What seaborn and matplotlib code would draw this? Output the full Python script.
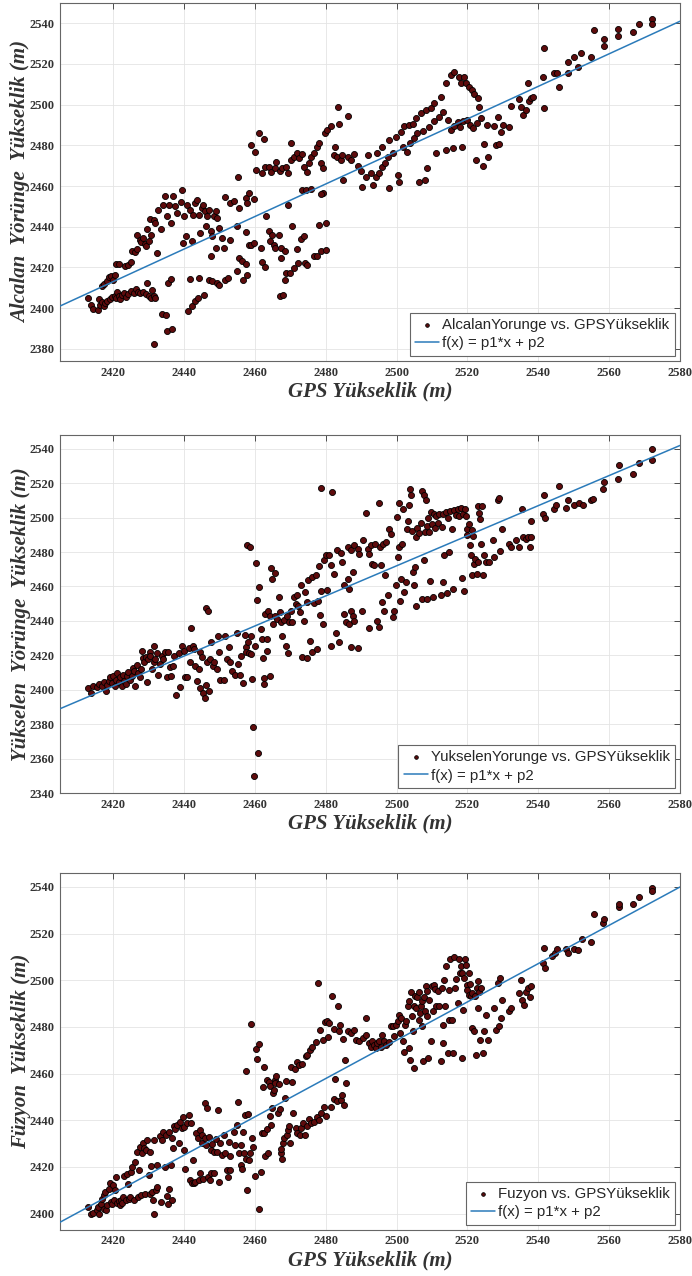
import numpy as np
import pandas as pd
import matplotlib
matplotlib.use("Agg")
import matplotlib.pyplot as plt
import seaborn as sns

# -----------------------------
# Data (GPS height vs. trajectory height, m)
# -----------------------------
alcalan_gps = [
    2413.0, 2413.7, 2414.2, 2415.6, 2416.0, 2416.3, 2416.9, 2417.3, 2417.8, 2418.4,
    2419.2, 2419.7, 2420.4, 2420.8, 2421.2, 2421.6, 2422.0, 2422.5, 2423.1, 2423.7,
    2424.3, 2425.0, 2425.8, 2426.4, 2427.1, 2427.6, 2428.4, 2429.2, 2430.0, 2430.7,
    2431.4, 2431.9, 2430.9, 2429.5,
    2416.8, 2417.5, 2418.2, 2418.7, 2419.3, 2420.1, 2420.6, 2420.8, 2421.6, 2423.4,
    2424.2, 2425.0, 2425.3, 2426.2, 2426.7, 2426.7, 2427.5, 2427.8, 2428.4, 2428.9,
    2429.2, 2429.5, 2430.0, 2430.3, 2430.7, 2431.4, 2431.9, 2432.4, 2432.8, 2433.5,
    2434.1, 2434.7, 2435.2, 2435.7, 2436.3, 2436.9, 2437.5, 2437.9, 2439.1, 2439.5,
    2439.7, 2440.1, 2440.5, 2440.8, 2441.6, 2442.3, 2442.5, 2443.2, 2443.7, 2444.2,
    2444.6, 2445.1, 2445.4, 2445.8, 2446.1, 2446.5, 2447.0, 2447.5, 2447.9, 2448.4,
    2448.9, 2449.4, 2449.8, 2450.8, 2451.4, 2447.6, 2448.9, 2451.7, 2453.1, 2452.9,
    2455.0, 2455.5, 2454.1, 2457.4, 2457.8, 2458.3, 2457.6, 2459.7,
    2431.6, 2433.8, 2434.9, 2435.2, 2436.6, 2435.5, 2436.3, 2441.1, 2442.3, 2443.0,
    2444.0, 2445.6, 2441.8, 2444.2, 2447.0, 2447.9, 2449.2, 2449.8, 2451.7, 2452.5,
    2455.0, 2455.5, 2456.4, 2456.7, 2457.4, 2457.8, 2458.3, 2458.9, 2459.7, 2461.8,
    2462.1, 2463.0, 2463.2, 2463.9, 2464.2, 2464.9, 2465.4, 2465.8, 2466.8, 2467.3,
    2467.1, 2468.0, 2467.5, 2468.5, 2468.5, 2468.7, 2469.9, 2469.3, 2470.6, 2471.0,
    2472.0, 2472.3, 2472.9, 2473.9, 2474.1, 2474.8, 2476.7, 2477.6, 2478.6, 2480.0,
    2478.1, 2480.0, 2479.1, 2473.4,
    2455.3, 2458.8, 2460.0, 2460.2, 2461.1, 2462.5, 2462.1, 2463.0, 2463.9, 2464.6,
    2465.6, 2466.1, 2467.1, 2467.7, 2468.7, 2469.3, 2470.1, 2470.3, 2471.0, 2471.8,
    2472.5, 2473.2, 2473.9, 2474.6, 2475.3, 2475.9, 2476.7, 2477.5, 2478.1, 2478.8,
    2479.3, 2479.7, 2480.5, 2481.4, 2482.2, 2482.5, 2483.6, 2483.8, 2483.3, 2484.2,
    2484.7, 2485.0, 2474.3, 2475.8, 2478.6,
    2486.2, 2486.2, 2487.1, 2488.1, 2489.0, 2489.9, 2490.1, 2491.3, 2491.8, 2492.8,
    2493.4, 2494.2, 2494.6, 2495.1, 2495.9, 2496.0, 2496.8, 2497.5, 2497.9, 2497.9,
    2498.9, 2499.8, 2500.3, 2500.8, 2501.2, 2501.7, 2502.2, 2502.8, 2503.6, 2503.8,
    2504.5, 2505.0, 2505.5, 2505.9, 2506.4, 2506.9, 2507.5, 2508.1, 2508.3, 2508.5,
    2509.2, 2509.7, 2510.6, 2510.6, 2511.1, 2512.0, 2512.5, 2513.0, 2513.9, 2513.9,
    2514.4, 2515.3, 2515.3, 2515.8, 2516.3, 2516.3, 2517.2, 2517.7, 2517.9, 2518.2,
    2518.6, 2518.8, 2519.1, 2519.6, 2520.0, 2520.3, 2520.7, 2521.3, 2521.6, 2521.9,
    2522.4, 2522.6, 2522.9, 2523.3, 2523.8, 2524.3, 2524.7, 2525.4, 2525.7, 2527.6,
    2528.0, 2528.5, 2529.0, 2529.4, 2529.9, 2531.8, 2532.3, 2534.6, 2535.1, 2535.6,
    2536.5, 2537.0, 2537.4, 2537.9, 2538.6, 2541.2, 2541.7, 2541.7, 2544.5, 2545.2,
    2545.9, 2548.3, 2548.5, 2550.1, 2551.1, 2552.0, 2554.8, 2555.8, 2558.6, 2558.6,
    2562.4, 2562.4, 2566.6, 2568.5, 2572.1, 2572.1,
]
alcalan_h = [
    2404.9, 2401.3, 2399.5, 2399.2, 2404.4, 2401.6, 2402.8, 2400.8, 2402.5, 2403.3,
    2404.4, 2405.4, 2406.1, 2404.9, 2408.0, 2405.7, 2404.4, 2406.6, 2407.4, 2405.4,
    2407.0, 2408.2, 2407.4, 2409.3, 2408.0, 2407.4, 2408.0, 2407.0, 2406.1, 2404.9,
    2406.1, 2404.9, 2409.0, 2412.3,
    2410.7, 2411.8, 2413.1, 2415.2, 2415.9, 2413.9, 2416.4, 2421.5, 2421.8, 2420.8,
    2421.3, 2422.5, 2427.9, 2427.4, 2429.0, 2436.1, 2433.6, 2432.3, 2434.4, 2431.6,
    2430.3, 2438.9, 2432.8, 2443.8, 2436.1, 2443.1, 2441.8, 2427.0, 2448.4, 2438.9,
    2450.8, 2454.9, 2445.1, 2450.8, 2441.8, 2455.2, 2450.0, 2446.7, 2452.0, 2457.9,
    2432.0, 2445.1, 2435.2, 2450.8, 2448.4, 2432.8, 2445.9, 2451.6, 2453.3, 2445.9,
    2436.9, 2449.2, 2450.8, 2447.5, 2440.2, 2445.1, 2448.4, 2437.7, 2435.2, 2445.1,
    2447.5, 2444.3, 2439.3, 2434.4, 2429.5, 2425.4, 2429.5, 2454.6, 2451.6, 2433.6,
    2440.2, 2449.2, 2452.5, 2454.1, 2451.6, 2456.6, 2437.2, 2453.6,
    2382.3, 2397.2, 2396.6, 2388.9, 2389.7, 2412.3, 2414.3, 2398.5, 2400.8, 2403.3,
    2404.9, 2406.6, 2414.4, 2414.8, 2413.6, 2413.1, 2412.3, 2411.5, 2413.9, 2414.8,
    2418.0, 2424.6, 2423.0, 2413.9, 2421.8, 2416.4, 2431.1, 2431.1, 2432.0, 2429.5,
    2422.5, 2420.2, 2445.1, 2437.7, 2432.8, 2436.1, 2431.1, 2429.5, 2436.1, 2424.6,
    2406.1, 2406.6, 2429.5, 2427.9, 2413.9, 2417.2, 2417.2, 2450.8, 2440.2, 2419.7,
    2429.0, 2422.1, 2433.9, 2435.2, 2422.1, 2421.3, 2425.7, 2425.4, 2427.9, 2428.7,
    2441.0, 2441.8, 2456.6, 2458.2,
    2464.3, 2480.2, 2476.6, 2467.9, 2485.9, 2483.1, 2466.2, 2469.2, 2469.5, 2467.0,
    2468.7, 2472.0, 2467.5, 2468.7, 2469.2, 2466.6, 2481.3, 2472.8, 2474.4, 2476.4,
    2473.6, 2475.7, 2469.5, 2467.0, 2471.1, 2474.1, 2476.1, 2479.3, 2481.0, 2471.1,
    2468.7, 2485.9, 2487.5, 2489.5, 2475.2, 2479.3, 2499.0, 2490.5, 2474.4, 2472.8,
    2475.2, 2463.0, 2458.0, 2458.4, 2456.1,
    2494.4, 2474.4, 2472.8, 2475.7, 2469.8, 2467.5, 2459.7, 2464.6, 2475.2, 2466.2,
    2460.5, 2464.6, 2476.1, 2466.6, 2469.5, 2479.3, 2471.1, 2474.4, 2458.9, 2482.6,
    2476.1, 2484.3, 2465.4, 2462.1, 2486.7, 2479.3, 2489.5, 2476.9, 2489.8, 2481.0,
    2490.5, 2483.4, 2493.3, 2485.9, 2462.1, 2495.7, 2487.2, 2462.9, 2497.4, 2468.7,
    2489.2, 2498.2, 2500.7, 2492.1, 2476.1, 2494.1, 2503.9, 2496.6, 2510.5, 2477.7,
    2492.5, 2514.6, 2487.5, 2478.5, 2516.2, 2489.5, 2491.6, 2513.4, 2489.2, 2510.8,
    2479.3, 2492.1, 2513.4, 2510.5, 2492.5, 2508.5, 2490.0, 2507.2, 2488.4, 2505.2,
    2472.6, 2491.1, 2503.1, 2499.0, 2493.3, 2469.8, 2480.7, 2490.0, 2474.4, 2489.5,
    2480.2, 2493.8, 2480.7, 2486.7, 2490.0, 2488.9, 2499.3, 2502.9, 2499.0, 2494.9,
    2497.4, 2510.5, 2502.0, 2503.1, 2503.9, 2513.8, 2498.2, 2527.7, 2515.4, 2515.7,
    2508.5, 2521.1, 2515.4, 2523.6, 2518.7, 2525.6, 2523.6, 2536.7, 2528.9, 2532.3,
    2537.2, 2533.8, 2535.9, 2539.7, 2542.1, 2539.7,
]

yukselen_gps = [
    2413.0, 2413.7, 2414.4, 2415.4, 2416.1, 2416.8, 2417.5, 2418.0, 2418.4, 2418.8,
    2419.2, 2419.6, 2420.1, 2420.6, 2420.8, 2421.2, 2421.6, 2422.0, 2422.5, 2422.7,
    2423.1, 2423.5, 2423.9, 2424.3, 2424.8, 2425.3, 2425.6, 2425.9, 2426.3, 2426.7,
    2427.1, 2427.5, 2427.8, 2428.1, 2428.4, 2428.8, 2429.2, 2429.5, 2429.9, 2430.3,
    2430.5, 2431.0, 2431.4, 2431.6, 2431.9, 2432.4, 2432.8, 2433.3, 2433.8, 2434.2,
    2434.7, 2435.2, 2435.5, 2436.0, 2436.3, 2436.9, 2437.1, 2437.8, 2438.5, 2438.9,
    2439.4, 2439.9, 2440.4, 2440.8, 2441.3, 2441.8, 2442.1, 2442.5, 2442.9, 2443.2,
    2443.7, 2444.2, 2444.4, 2444.6, 2445.1, 2445.4, 2445.8, 2446.1, 2446.3, 2446.7,
    2446.5, 2447.0, 2447.3, 2447.6, 2448.2, 2448.6, 2449.2, 2449.6, 2449.8, 2450.3,
    2451.2, 2451.7, 2452.2, 2452.7, 2453.1, 2453.6, 2454.5, 2455.0, 2455.2, 2455.8,
    2456.1, 2456.7, 2457.1, 2457.4, 2457.6, 2457.8, 2458.6, 2458.0, 2458.3, 2458.8,
    2459.0, 2459.2, 2459.5, 2459.7, 2459.9, 2460.2, 2460.5, 2460.9, 2461.2, 2461.8,
    2462.1, 2462.4, 2462.5, 2462.7, 2463.0, 2463.3, 2463.5, 2463.8, 2464.2, 2464.4,
    2464.6, 2464.9, 2465.2, 2465.6, 2465.8, 2466.3, 2466.8, 2467.1, 2467.5, 2467.8,
    2468.2, 2468.7, 2469.0, 2469.3, 2469.6, 2470.1, 2470.6, 2471.0, 2471.5, 2471.8,
    2472.2, 2472.7, 2473.1, 2473.4, 2473.9, 2474.1, 2474.6, 2474.8, 2475.0, 2475.6,
    2476.0, 2476.2, 2476.7, 2477.2, 2477.6, 2477.8, 2478.1, 2478.4, 2478.6, 2478.8,
    2479.1, 2479.5, 2480.0, 2480.3, 2480.9, 2481.4, 2481.6, 2481.9, 2482.3, 2482.8,
    2483.3, 2483.8, 2484.2, 2484.7, 2485.2, 2485.2, 2485.6,
    2486.2, 2487.1, 2488.1, 2489.0, 2489.5, 2486.2, 2486.6, 2487.1, 2487.6, 2486.6,
    2488.1, 2487.1, 2489.0, 2487.6, 2490.4, 2491.3, 2491.8, 2492.3, 2492.8, 2490.1,
    2492.3, 2493.2, 2493.7, 2494.0, 2494.6, 2494.9, 2495.1, 2495.3, 2495.6, 2495.9,
    2496.2, 2496.5, 2496.8, 2497.0, 2497.5, 2497.9, 2498.4, 2498.9, 2499.3, 2499.8,
    2500.0, 2500.3, 2500.6, 2500.8, 2501.0, 2501.2, 2501.5, 2501.7, 2502.2, 2502.6,
    2502.8, 2503.1, 2503.4, 2503.8, 2504.1, 2504.4, 2504.5, 2505.0, 2505.3, 2505.5,
    2505.6, 2505.9, 2506.4, 2506.9, 2507.2, 2507.3, 2507.8, 2507.8, 2508.1, 2508.3,
    2508.5, 2508.7, 2509.0, 2509.2, 2509.4, 2509.7, 2510.0, 2510.3, 2510.6, 2510.9,
    2511.1, 2511.6, 2512.0, 2512.5, 2512.8, 2513.0, 2513.2, 2513.5, 2513.9, 2514.1,
    2514.4, 2514.7, 2515.1, 2515.6, 2515.8, 2516.3, 2516.7, 2517.2, 2517.7, 2518.2,
    2518.6, 2518.8, 2519.1, 2519.4, 2519.6, 2519.8, 2520.0, 2520.3, 2520.7, 2521.0,
    2521.3, 2521.4, 2521.7, 2521.9, 2522.2, 2522.6, 2522.9, 2523.1, 2523.3, 2523.5,
    2523.8, 2524.1, 2524.5, 2524.7, 2525.2, 2526.0, 2527.1, 2527.6, 2528.5, 2529.0,
    2529.2, 2529.7, 2531.8, 2532.3, 2533.7, 2534.6, 2535.3, 2535.6, 2536.4, 2537.0,
    2537.6, 2537.9, 2537.9, 2541.2, 2541.7, 2541.9, 2544.5, 2544.9, 2545.7, 2547.8,
    2548.5, 2550.1, 2551.5, 2552.5, 2554.8, 2555.5, 2558.4, 2558.6, 2562.4, 2562.8,
    2566.8, 2568.5, 2572.1, 2572.1,
]
yukselen_h = [
    2400.8, 2398.1, 2402.3, 2401.4, 2403.3, 2401.9, 2404.3, 2399.4, 2402.7, 2405.2,
    2407.2, 2403.9, 2408.2, 2402.3, 2405.8, 2409.7, 2404.3, 2407.2, 2401.9, 2408.5,
    2405.2, 2403.3, 2407.8, 2410.1, 2405.8, 2408.2, 2412.4, 2411.1, 2402.3, 2414.4,
    2409.7, 2407.2, 2412.0, 2422.5, 2418.3, 2415.9, 2418.8, 2404.7, 2417.9, 2421.7,
    2419.4, 2412.0, 2415.9, 2425.6, 2417.9, 2421.4, 2408.5, 2415.0, 2419.8, 2417.9,
    2421.7, 2407.2, 2422.1, 2413.0, 2408.2, 2414.0, 2419.8, 2396.9, 2421.4, 2401.4,
    2425.6, 2422.7, 2407.2, 2407.2, 2424.1, 2415.9, 2435.7, 2425.2, 2423.7, 2414.0,
    2405.2, 2412.0, 2400.8, 2421.7, 2418.8, 2398.4, 2395.0, 2402.7, 2447.4, 2446.0,
    2415.9, 2399.4, 2417.9, 2427.6, 2413.6, 2415.9, 2412.0, 2431.5, 2421.7, 2405.8,
    2405.8, 2431.5, 2417.9, 2424.7, 2415.9, 2411.1, 2408.5, 2433.0, 2415.0, 2408.5,
    2419.8, 2403.9, 2431.8, 2424.7, 2422.1, 2483.9, 2482.9, 2427.6, 2421.4, 2420.8,
    2431.5, 2406.2, 2378.6, 2349.9, 2425.6, 2473.8, 2452.4, 2363.5, 2459.6, 2435.3,
    2429.5, 2418.3, 2406.6, 2403.3, 2444.1, 2429.5, 2422.7, 2446.0, 2408.2, 2443.1,
    2470.7, 2464.1, 2438.3, 2468.0, 2443.1, 2441.2, 2453.8, 2445.4, 2439.3, 2431.5,
    2440.8, 2425.6, 2443.1, 2421.4, 2439.6, 2446.0, 2439.2, 2453.8, 2449.9, 2455.1,
    2448.5, 2445.4, 2460.6, 2419.2, 2440.2, 2456.7, 2418.3, 2450.9, 2463.5, 2428.5,
    2422.1, 2465.4, 2450.5, 2466.4, 2423.7, 2451.8, 2471.8, 2443.5, 2517.3, 2457.1,
    2438.3, 2475.1, 2478.4, 2457.7, 2478.0, 2472.2, 2425.6, 2515.0, 2467.4, 2433.0,
    2481.0, 2428.0, 2479.6, 2474.2, 2444.1, 2460.6, 2439.2,
    2482.9, 2481.0, 2483.9, 2481.9, 2479.0, 2464.5, 2458.6, 2446.0, 2443.1, 2438.3,
    2440.2, 2424.7, 2424.1, 2468.3, 2486.8, 2502.9, 2481.9, 2479.0, 2483.9, 2446.0,
    2435.7, 2473.2, 2472.2, 2484.9, 2440.2, 2508.7, 2436.3, 2482.9, 2472.2, 2450.9,
    2484.9, 2446.0, 2466.4, 2485.8, 2454.8, 2493.2, 2490.7, 2442.1, 2446.0, 2460.6,
    2500.4, 2477.1, 2482.9, 2508.7, 2451.8, 2464.5, 2484.9, 2505.2, 2456.7, 2462.5,
    2493.6, 2497.9, 2507.2, 2516.5, 2513.0, 2492.0, 2468.3, 2460.6, 2471.3, 2488.7,
    2448.9, 2494.0, 2491.3, 2496.7, 2515.3, 2452.8, 2513.0, 2475.1, 2491.5, 2510.1,
    2495.1, 2452.8, 2499.8, 2491.5, 2462.9, 2503.3, 2496.5, 2453.8, 2502.3, 2494.0,
    2501.0, 2496.7, 2502.3, 2454.8, 2494.6, 2502.3, 2462.5, 2478.1, 2503.3, 2456.3,
    2499.8, 2480.0, 2503.7, 2493.6, 2458.3, 2504.3, 2501.7, 2505.2, 2501.0, 2505.6,
    2464.9, 2502.3, 2457.1, 2505.2, 2501.0, 2489.7, 2493.6, 2496.5, 2483.9, 2478.4,
    2492.6, 2466.4, 2489.3, 2473.2, 2476.1, 2467.4, 2474.2, 2506.8, 2502.9, 2499.4,
    2484.9, 2506.8, 2466.4, 2478.1, 2474.2, 2474.2, 2486.8, 2477.1, 2510.1, 2511.5,
    2480.4, 2493.2, 2484.9, 2482.9, 2487.2, 2482.9, 2504.9, 2488.7, 2487.8, 2488.7,
    2482.9, 2497.9, 2488.7, 2502.3, 2513.0, 2499.8, 2505.2, 2507.2, 2518.4, 2505.6,
    2510.1, 2507.6, 2508.2, 2507.6, 2510.1, 2510.7, 2516.5, 2520.8, 2522.3, 2530.5,
    2525.6, 2531.5, 2539.8, 2533.4,
]

fuzyon_gps = [
    2413.0, 2413.7, 2414.2, 2415.4, 2415.8, 2416.1, 2416.5, 2416.8, 2417.3, 2417.5,
    2417.7, 2418.0, 2418.4, 2418.7, 2419.0, 2419.3, 2419.7, 2419.9, 2420.3, 2420.6,
    2420.8, 2421.2, 2421.6, 2421.8, 2422.2, 2422.5, 2422.9, 2423.1, 2423.5, 2423.9,
    2424.2, 2424.4, 2424.8, 2425.1, 2425.4, 2425.8, 2426.2, 2426.7, 2426.9, 2427.2,
    2427.5, 2427.8, 2428.1, 2428.4, 2428.8, 2429.1, 2429.3, 2429.5, 2430.0, 2430.3,
    2430.5, 2430.7, 2430.9, 2431.2, 2431.4, 2431.6, 2432.0, 2432.4, 2432.5, 2433.1,
    2433.5, 2433.8, 2434.2, 2434.7, 2434.9, 2435.2, 2435.5, 2435.7, 2435.9, 2436.3,
    2436.6, 2436.6, 2436.9, 2437.1, 2437.5, 2438.0, 2438.5, 2439.0, 2439.4, 2439.7,
    2439.9, 2440.1, 2440.4, 2440.8, 2441.3, 2441.6, 2442.0, 2442.3, 2442.5, 2442.9,
    2443.2, 2443.5, 2443.9, 2444.2, 2444.4, 2444.6, 2445.0, 2445.2, 2445.4, 2445.8,
    2446.0, 2446.3, 2446.5, 2446.7, 2447.0, 2447.3, 2447.5, 2447.6, 2447.9, 2448.4,
    2448.6, 2448.9, 2449.2, 2449.6, 2449.8, 2450.3, 2450.8, 2451.2, 2451.7, 2452.0,
    2452.4, 2452.6, 2453.0, 2453.1, 2454.1, 2454.5, 2455.0, 2455.2, 2455.5, 2456.0,
    2456.1, 2456.4, 2456.7, 2456.9, 2457.1, 2457.4, 2457.6, 2457.8, 2458.0, 2458.3,
    2458.6, 2459.0, 2459.2, 2459.5, 2459.9, 2460.2, 2460.5, 2461.1, 2461.1, 2461.8,
    2462.1, 2462.4, 2462.5, 2462.7, 2463.0, 2463.3, 2463.5, 2463.7, 2463.9, 2464.2,
    2464.4, 2464.6, 2464.9, 2465.2, 2465.4, 2465.6, 2465.8, 2466.1, 2466.5, 2466.8,
    2467.1, 2467.3, 2467.5, 2467.8, 2468.0, 2468.2, 2468.4, 2468.7, 2469.0, 2469.3,
    2469.6, 2469.9, 2470.1, 2470.6, 2470.9, 2471.2, 2471.5, 2471.8, 2472.0, 2472.5,
    2472.7, 2473.1, 2473.4, 2473.7, 2474.1, 2474.3, 2474.6, 2474.8, 2475.3, 2475.6,
    2475.8, 2476.2, 2476.7, 2477.2, 2477.5, 2477.8, 2478.1, 2478.4, 2478.8, 2479.1,
    2479.4, 2479.7, 2480.0, 2480.3, 2480.7, 2480.9, 2481.4, 2481.9, 2482.2, 2482.4,
    2482.6, 2483.1, 2483.5, 2483.8, 2484.1, 2484.2, 2484.7, 2485.0, 2485.2, 2485.4,
    2485.7,
    2486.2, 2487.1, 2488.1, 2488.5, 2489.5, 2490.4, 2491.3, 2491.3, 2492.3, 2492.8,
    2493.2, 2493.7, 2494.2, 2494.6, 2495.1, 2495.6, 2496.0, 2496.5, 2497.0, 2497.9,
    2498.4, 2498.9, 2499.3, 2499.8, 2500.3, 2500.8, 2501.0, 2501.2, 2501.7, 2502.2,
    2502.4, 2502.6, 2503.1, 2503.4, 2503.6, 2503.8, 2504.0, 2504.3, 2504.5, 2504.8,
    2505.0, 2505.3, 2505.6, 2505.9, 2506.2, 2506.4, 2506.6, 2506.9, 2507.2, 2507.3,
    2507.5, 2507.8, 2508.1, 2508.3, 2508.5, 2508.7, 2509.0, 2509.2, 2509.7, 2510.0,
    2510.3, 2510.6, 2510.9, 2511.1, 2511.6, 2512.0, 2512.5, 2512.8, 2513.0, 2513.2,
    2513.5, 2513.8, 2513.9, 2514.4, 2514.7, 2514.8, 2515.0, 2515.6, 2515.8, 2516.3,
    2516.6, 2516.7, 2517.2, 2517.5, 2517.9, 2518.2, 2518.5, 2518.6, 2518.8, 2519.1,
    2519.4, 2519.6, 2519.8, 2520.0, 2520.3, 2520.5, 2520.7, 2521.0, 2521.3, 2521.4,
    2521.9, 2522.2, 2522.4, 2522.6, 2522.9, 2523.1, 2523.3, 2523.5, 2523.8, 2524.3,
    2524.7, 2525.2, 2525.7, 2527.6, 2528.0, 2528.5, 2528.8, 2529.2, 2529.4, 2529.7,
    2531.8, 2532.3, 2534.6, 2535.1, 2535.4, 2536.0, 2536.5, 2537.0, 2537.6, 2537.9,
    2541.2, 2541.7, 2541.9, 2544.0, 2544.8, 2545.4, 2547.8, 2548.5, 2550.1, 2551.1,
    2552.3, 2554.8, 2555.8, 2558.3, 2558.6, 2562.7, 2562.8, 2566.6, 2568.5, 2572.1,
    2572.1,
]
fuzyon_h = [
    2402.9, 2399.7, 2400.3, 2401.4, 2402.9, 2399.7, 2404.3, 2406.4, 2402.1, 2407.9,
    2409.3, 2401.4, 2403.6, 2410.7, 2412.9, 2405.0, 2404.3, 2412.2, 2406.0, 2410.0,
    2415.8, 2404.6, 2405.4, 2403.6, 2406.0, 2404.6, 2407.2, 2416.0, 2405.7, 2416.9,
    2412.6, 2406.4, 2407.2, 2417.9, 2420.1, 2406.0, 2422.2, 2426.5, 2407.2, 2418.6,
    2428.7, 2407.9, 2425.8, 2430.4, 2427.9, 2408.6, 2427.2, 2431.5, 2416.5, 2408.6,
    2426.5, 2420.3, 2409.3, 2406.0, 2400.0, 2431.5, 2410.0, 2420.8, 2411.5, 2433.2,
    2405.0, 2431.5, 2435.1, 2419.8, 2433.7, 2407.4, 2404.3, 2410.7, 2435.1, 2420.8,
    2406.0, 2432.2, 2427.9, 2437.5, 2436.1, 2438.0, 2430.4, 2439.4, 2436.5, 2441.3,
    2427.2, 2437.0, 2419.3, 2438.7, 2442.3, 2414.6, 2438.7, 2413.2, 2422.9, 2412.9,
    2413.6, 2434.7, 2432.2, 2414.3, 2435.8, 2417.2, 2433.7, 2430.1, 2415.0, 2432.2,
    2447.3, 2429.4, 2445.1, 2415.8, 2433.0, 2414.6, 2427.2, 2417.2, 2429.8, 2426.5,
    2417.2, 2431.8, 2426.5, 2444.4, 2413.6, 2430.1, 2425.1, 2433.7, 2425.8, 2418.6,
    2415.8, 2430.8, 2424.6, 2418.6, 2435.1, 2429.4, 2438.0, 2448.0, 2425.8, 2420.8,
    2429.2, 2419.3, 2435.1, 2425.8, 2442.3, 2423.6, 2460.9, 2410.0, 2442.7, 2422.9,
    2425.8, 2481.4, 2432.2, 2428.7, 2416.0, 2470.5, 2466.2, 2472.6, 2402.1, 2417.9,
    2434.7, 2454.4, 2463.0, 2434.4, 2424.6, 2457.3, 2436.1, 2425.8, 2456.2, 2441.8,
    2454.7, 2438.0, 2445.1, 2451.6, 2453.0, 2457.3, 2455.9, 2459.0, 2442.9, 2455.4,
    2444.7, 2425.8, 2427.5, 2423.6, 2430.1, 2432.2, 2449.4, 2457.0, 2433.7, 2435.8,
    2437.5, 2430.4, 2462.7, 2456.6, 2443.0, 2461.9, 2436.5, 2434.7, 2464.8, 2463.8,
    2433.7, 2436.5, 2464.2, 2438.7, 2433.7, 2467.6, 2437.5, 2468.1, 2440.4, 2470.2,
    2438.7, 2471.3, 2439.4, 2473.4, 2441.3, 2498.9, 2440.1, 2478.5, 2443.3, 2474.5,
    2445.8, 2481.9, 2441.8, 2482.4, 2475.6, 2481.7, 2445.8, 2493.1, 2449.0, 2479.1,
    2457.6, 2448.4, 2488.8, 2478.1, 2480.9, 2448.7, 2450.9, 2474.8, 2446.6, 2465.9,
    2455.9,
    2478.1, 2477.4, 2478.8, 2474.5, 2473.8, 2475.2, 2483.8, 2476.6, 2473.1, 2471.6,
    2473.8, 2472.3, 2470.9, 2473.1, 2473.8, 2471.6, 2476.6, 2473.8, 2472.3, 2473.4,
    2480.2, 2480.5, 2475.9, 2480.9, 2482.4, 2485.2, 2477.4, 2483.8, 2473.8, 2469.1,
    2480.9, 2482.4, 2488.8, 2470.9, 2491.0, 2465.9, 2494.8, 2484.5, 2478.1, 2488.8,
    2462.3, 2493.4, 2488.1, 2492.8, 2483.1, 2494.8, 2486.0, 2488.8, 2491.0, 2480.2,
    2465.2, 2492.8, 2486.7, 2497.4, 2484.5, 2495.3, 2466.6, 2491.7, 2473.8, 2497.4,
    2486.7, 2498.1, 2496.3, 2488.8, 2495.3, 2488.8, 2465.2, 2496.6, 2480.9, 2473.1,
    2500.0, 2488.8, 2506.3, 2468.8, 2495.9, 2482.8, 2508.9, 2483.1, 2468.8, 2510.0,
    2496.7, 2500.6, 2490.3, 2509.2, 2503.2, 2506.0, 2466.6, 2503.2, 2487.4, 2501.0,
    2508.9, 2506.7, 2498.1, 2495.7, 2503.2, 2493.8, 2498.6, 2493.4, 2494.6, 2479.5,
    2478.1, 2493.1, 2468.1, 2496.7, 2488.1, 2499.6, 2494.8, 2474.5, 2496.7, 2468.8,
    2478.1, 2485.2, 2474.5, 2488.1, 2478.8, 2498.9, 2480.5, 2501.0, 2483.8, 2491.7,
    2486.7, 2488.1, 2494.6, 2500.3, 2491.7, 2489.5, 2494.8, 2496.7, 2492.8, 2497.4,
    2507.4, 2513.9, 2505.3, 2510.3, 2511.7, 2513.2, 2513.2, 2511.7, 2513.2, 2512.9,
    2517.8, 2516.3, 2528.2, 2524.4, 2526.4, 2531.5, 2532.5, 2532.5, 2535.8, 2539.7,
    2538.3,
]

# linear fits f(x) = p1*x + p2
alcalan_fit = (0.800, 477.0)
yukselen_fit = (0.874, 287.0)
fuzyon_fit = (0.821, 421.8)

x_limits = (2405, 2580)
x_ticks = list(range(2420, 2581, 20))

panels = [
    dict(x=alcalan_gps, y=alcalan_h, fit=alcalan_fit,
         legend="AlcalanYorunge vs. GPSYükseklik",
         ylabel="Alcalan  Yörünge  Yükseklik (m)",
         ylim=(2374, 2550), yticks=range(2380, 2541, 20),
         rect=[0.0867, 0.7171, 0.8960, 0.2806]),
    dict(x=yukselen_gps, y=yukselen_h, fit=yukselen_fit,
         legend="YukselenYorunge vs. GPSYükseklik",
         ylabel="Yükselen  Yörünge  Yükseklik (m)",
         ylim=(2340, 2548), yticks=range(2340, 2541, 20),
         rect=[0.0867, 0.3785, 0.8960, 0.2806]),
    dict(x=fuzyon_gps, y=fuzyon_h, fit=fuzyon_fit,
         legend="Fuzyon vs. GPSYükseklik",
         ylabel="Füzyon  Yükseklik (m)",
         ylim=(2393, 2546), yticks=range(2400, 2541, 20),
         rect=[0.0867, 0.0361, 0.8960, 0.2798]),
]

sns.set_style("whitegrid")
plt.rcParams["font.family"] = ["Liberation Serif", "DejaVu Serif"]
plt.rcParams["grid.color"] = "#e4e4e4"
plt.rcParams["grid.linewidth"] = 0.6

fig = plt.figure(figsize=(6.92, 12.76), dpi=100)

for p in panels:
    ax = fig.add_axes(p["rect"])
    df = pd.DataFrame({"gps": p["x"], "h": p["y"]})
    sns.scatterplot(data=df, x="gps", y="h", ax=ax, s=19, color="#5e0b0c",
                    edgecolor="#000000", linewidth=0.6, label=p["legend"], zorder=3)

    p1, p2 = p["fit"]
    fit_df = pd.DataFrame({"gps": list(x_limits)})
    fit_df["f"] = p1 * fit_df["gps"] + p2
    sns.lineplot(data=fit_df, x="gps", y="f", ax=ax, color="#2b7bba", linewidth=1.1,
                 label="f(x) = p1*x + p2", zorder=4)

    ax.set_xlim(*x_limits)
    ax.set_ylim(*p["ylim"])
    ax.set_xticks(x_ticks)
    ax.set_yticks(list(p["yticks"]))
    ax.tick_params(direction="in", length=4, width=0.6, top=True, right=True,
                   labelsize=9, colors="#333333", pad=4)
    ax.tick_params(axis="x", labeltop=False)
    ax.tick_params(axis="y", labelright=False)
    for lbl in ax.get_xticklabels() + ax.get_yticklabels():
        lbl.set_fontweight("bold")
    for s in ax.spines.values():
        s.set_color("#666666")
        s.set_linewidth(0.8)

    ax.set_xlabel("GPS Yükseklik (m)", fontsize=15, fontweight="bold",
                  fontstyle="italic", color="#333333")
    ax.set_ylabel(p["ylabel"], fontsize=15, fontweight="bold",
                  fontstyle="italic", color="#333333")
    ax.xaxis.set_label_coords(0.5, -0.058)
    ax.yaxis.set_label_coords(-0.047, 0.5)

    leg = ax.legend(loc="lower right", frameon=True, fancybox=False,
                    framealpha=1, edgecolor="#666666", borderaxespad=0.35,
                    handlelength=1.6, handletextpad=0.2, borderpad=0.35,
                    labelspacing=0.3, markerscale=0.6,
                    prop={"family": "Liberation Sans", "size": 10.8})
    leg.get_frame().set_linewidth(0.8)

fig.savefig("out.png", dpi=100)
